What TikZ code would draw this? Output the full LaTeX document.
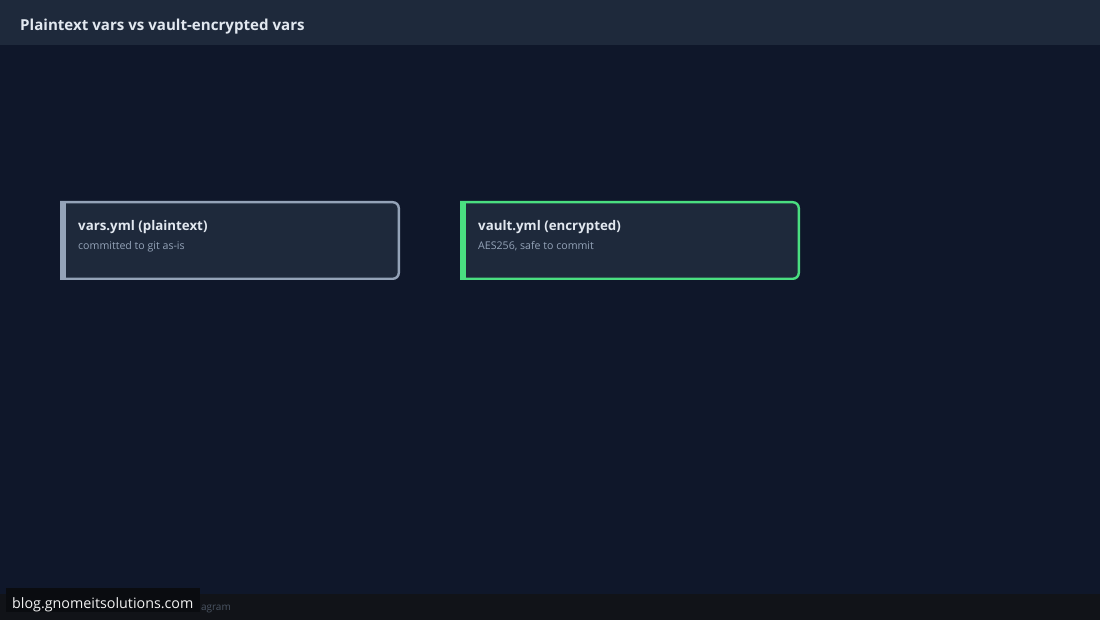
\documentclass[tikz,border=0pt]{standalone}
\usepackage{fontspec}
\setmainfont{Open Sans}
\definecolor{bgmain}{HTML}{0F172A}
\definecolor{bghead}{HTML}{1E293B}
\definecolor{cardfill}{HTML}{1E293B}
\definecolor{slateb}{HTML}{94A3B8}
\definecolor{greenb}{HTML}{4ADE80}
\definecolor{titletxt}{HTML}{E2E8F0}
\definecolor{subtxt}{HTML}{94A3B8}
\definecolor{footbg}{HTML}{111318}
\definecolor{footxt}{HTML}{4B5563}
\definecolor{wmbg}{HTML}{0A0C10}
\begin{document}
\begin{tikzpicture}[x=1pt,y=-1pt,
  cardtitle/.style={anchor=base west,inner sep=0pt,text=titletxt,font=\bfseries\fontsize{13.3}{16}\selectfont},
  cardsub/.style={anchor=base west,inner sep=0pt,text=subtxt,font=\fontsize{10.6}{12}\selectfont},
  cardbox/.style={line width=2.4pt,fill=cardfill}]
\useasboundingbox (0,0) rectangle (1100,620);
\fill[bgmain] (0,0) rectangle (1100,620);
\fill[bghead] (0,0) rectangle (1100,45);
\node[anchor=base west,inner sep=0pt,text=titletxt,font=\bfseries\fontsize{15.1}{18}\selectfont] (title) at (20,30.5) {Plaintext vars vs vault-encrypted vars};
% card 1
\draw[cardbox,draw=slateb] (61.2,202.2) [rounded corners=6pt] -- (398.8,202.2) -- (398.8,278.8) [sharp corners] -- (61.2,278.8) -- cycle;
\fill[slateb] (60,201) rectangle (66,280);
\node[cardtitle] (t1) at (78,230.5) {vars.yml (plaintext)};
\node[cardsub] (s1) at (78,250) {committed to git as-is};
% card 2
\draw[cardbox,draw=greenb] (461.2,202.2) [rounded corners=6pt] -- (798.8,202.2) -- (798.8,278.8) [sharp corners] -- (461.2,278.8) -- cycle;
\fill[greenb] (460,201) rectangle (466,280);
\node[cardtitle] (t2) at (478,230.5) {vault.yml (encrypted)};
\node[cardsub] (s2) at (478,250) {AES256, safe to commit};
% footer
\fill[footbg] (0,594) rectangle (1100,620);
\node[anchor=base west,inner sep=0pt,text=footxt,font=\fontsize{10}{12}\selectfont] (foot) at (191,610) {Diagram};
\fill[wmbg] (6,588) rectangle (200,612);
\node[anchor=base west,inner sep=0pt,text=white!90!gray,font=\fontsize{14.3}{16}\selectfont] (wm) at (12,608) {blog.gnomeitsolutions.com};
\end{tikzpicture}
\end{document}
